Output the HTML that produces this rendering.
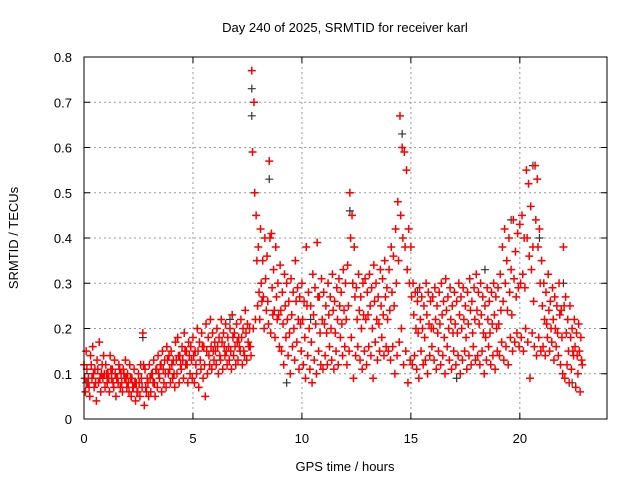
<!DOCTYPE html>
<html><head><meta charset="utf-8">
<style>
html,body{margin:0;padding:0;background:#fff;}
svg{display:block;font-family:"Liberation Sans",sans-serif;}
</style></head>
<body>
<svg id="chart" width="640" height="480" viewBox="0 0 640 480">
<text x="345" y="32" font-size="13" text-anchor="middle">Day 240 of 2025, SRMTID for receiver karl</text>
<text x="345" y="471" font-size="13" text-anchor="middle">GPS time / hours</text>
<text transform="translate(18,238) rotate(-90)" font-size="13" text-anchor="middle">SRMTID / TECUs</text>
<g id="grid"></g>
<g id="ticks"></g>
<g id="series-black"></g>
<g id="series-red"></g>
<rect x="84" y="57" width="523" height="362" fill="none" stroke="#000" stroke-width="1"/>
</svg>
<script>
const xTicks=[0,5,10,15,20];
const yTicks=[0,0.1,0.2,0.3,0.4,0.5,0.6,0.7,0.8];
const yTickLabels=["0","0.1","0.2","0.3","0.4","0.5","0.6","0.7","0.8"];
const timeStep=0.1;
const redHigh=[.12,.15,.09,.14,.16,.11,.13,.17,.10,.14,
.12,.10,.14,.11,.13,.09,.12,.10,.11,.13,
.10,.12,.09,.11,.08,.10,.12,.19,.11,.09,
.12,.10,.13,.11,.14,.12,.15,.13,.16,.14,
.15,.13,.17,.18,.14,.16,.19,.15,.17,.16,
.18,.15,.20,.17,.19,.16,.21,.18,.22,.19,
.17,.20,.18,.22,.19,.21,.18,.20,.23,.19,
.21,.18,.22,.20,.24,.21,.20,.77,.70,.45,
.38,.42,.35,.40,.36,.57,.41,.33,.38,.30,
.34,.28,.32,.30,.26,.31,.28,.35,.29,.27,
.30,.26,.38,.28,.25,.32,.29,.39,.27,.31,
.28,.25,.30,.27,.32,.26,.29,.31,.28,.33,
.30,.34,.50,.45,.38,.29,.32,.27,.30,.31,
.28,.32,.29,.34,.30,.27,.33,.31,.35,.29,
.33,.38,.36,.42,.48,.67,.60,.59,.55,.42,
.38,.30,.28,.26,.29,.27,.25,.30,.28,.26,
.27,.29,.25,.28,.30,.26,.31,.27,.29,.25,
.28,.26,.30,.27,.29,.25,.28,.31,.26,.29,
.32,.28,.30,.27,.25,.29,.26,.28,.30,.27,
.29,.32,.38,.42,.35,.40,.33,.44,.37,.41,
.43,.45,.40,.55,.52,.47,.38,.56,.53,.42,
.35,.30,.28,.32,.26,.29,.27,.25,.30,.24,
.38,.27,.22,.25,.20,.22,.19,.21,.18];
const redMid=[.09,.11,.07,.12,.10,.08,.11,.09,.12,.10,
.10,.09,.11,.08,.10,.09,.11,.08,.10,.09,
.08,.09,.07,.08,.06,.08,.09,.12,.07,.08,
.09,.10,.08,.11,.10,.12,.11,.10,.13,.11,
.12,.10,.13,.14,.12,.13,.15,.12,.14,.13,
.14,.12,.15,.13,.16,.12,.15,.14,.16,.15,
.15,.16,.14,.17,.16,.15,.16,.15,.18,.16,
.17,.16,.18,.15,.19,.17,.16,.59,.50,.35,
.28,.30,.27,.31,.26,.40,.29,.24,.27,.23,
.24,.21,.25,.22,.19,.23,.20,.26,.22,.21,
.22,.18,.25,.20,.17,.23,.21,.27,.19,.22,
.21,.19,.23,.20,.24,.19,.22,.25,.21,.24,
.22,.25,.40,.30,.27,.22,.24,.20,.23,.22,
.23,.25,.20,.26,.22,.21,.25,.23,.27,.22,
.24,.28,.25,.30,.35,.45,.40,.38,.33,.30,
.27,.23,.20,.19,.22,.20,.18,.23,.21,.20,
.20,.22,.19,.21,.23,.18,.24,.20,.22,.19,
.21,.19,.23,.20,.22,.18,.21,.24,.19,.22,
.24,.21,.23,.19,.18,.22,.19,.21,.23,.20,
.21,.24,.26,.30,.24,.28,.23,.31,.27,.29,
.30,.32,.29,.40,.36,.33,.26,.44,.38,.30,
.25,.22,.21,.24,.20,.22,.20,.19,.23,.18,
.25,.19,.15,.18,.15,.16,.14,.15,.13];
const redLow=[.06,.08,.05,.09,.07,.04,.08,.06,.09,.07,
.08,.06,.09,.07,.05,.08,.07,.06,.09,.07,
.06,.05,.07,.04,.06,.05,.07,.03,.06,.05,
.06,.08,.05,.07,.09,.06,.08,.07,.10,.08,
.09,.07,.10,.08,.11,.09,.12,.08,.10,.09,
.08,.10,.07,.11,.09,.05,.10,.12,.11,.13,
.12,.10,.13,.11,.14,.12,.13,.11,.14,.12,
.13,.15,.12,.14,.13,.16,.14,.20,.22,.25,
.22,.26,.20,.24,.21,.19,.23,.18,.22,.16,
.15,.12,.18,.14,.10,.16,.13,.17,.11,.15,
.12,.09,.14,.11,.08,.13,.10,.15,.12,.11,
.14,.12,.16,.13,.11,.15,.12,.18,.14,.16,
.12,.15,.18,.09,.14,.16,.13,.11,.15,.12,
.16,.14,.09,.17,.13,.15,.18,.14,.16,.15,
.13,.16,.10,.14,.17,.20,.12,.15,.08,.13,
.12,.14,.11,.09,.15,.12,.13,.10,.14,.16,
.13,.11,.15,.12,.14,.10,.16,.13,.11,.15,
.12,.14,.10,.13,.15,.11,.14,.12,.16,.13,
.14,.12,.15,.10,.13,.16,.12,.14,.11,.15,
.14,.17,.13,.16,.12,.18,.15,.17,.19,.16,
.18,.15,.20,.17,.09,.19,.16,.14,.18,.15,
.16,.14,.18,.15,.17,.13,.16,.14,.12,.10,
.09,.12,.08,.11,.14,.07,.10,.06,.12];
const blackTimes=[0.1,2.7,6.7,7.7,7.7,8.5,9.3,12.2,12.4,14.6,14.9,17.1,19.6,20.6,20.9,22.0,22.4,15.3,18.4,10.4];
const blackValues=[.08,.18,.22,.73,.67,.53,.08,.46,.38,.63,.42,.09,.44,.56,.40,.30,.08,.28,.33,.22];

const X0=84,X1=607,Y0=419,Y1=57,XMAX=24,YMAX=0.8;
function xs(t){return X0+t/XMAX*(X1-X0);}
function ys(v){return Y0-v/YMAX*(Y0-Y1);}
const NS="http://www.w3.org/2000/svg";
const grid=document.getElementById('grid'),ticks=document.getElementById('ticks');
function mk(tag,attrs,parent){const e=document.createElementNS(NS,tag);for(const k in attrs)e.setAttribute(k,attrs[k]);parent.appendChild(e);return e;}
yTicks.forEach((v,i)=>{
  const y=ys(v);
  if(i>0&&i<yTicks.length-1){const g=mk('line',{x1:X0,x2:X1,y1:y,y2:y,stroke:'#999','stroke-dasharray':'2,3'},grid);
  
  }
  const t=mk('line',{x1:X0,x2:X0+6,y1:y,y2:y,stroke:'#000'},ticks);
  
  
  const t2=mk('line',{x1:X1-6,x2:X1,y1:y,y2:y,stroke:'#000'},ticks);
  
  
  const l=mk('text',{x:72,y:y+5,'font-size':13,'text-anchor':'end'},ticks);
  l.textContent=yTickLabels[i];
  
  
});
xTicks.forEach(v=>{
  const x=xs(v);
  if(v>0){const g=mk('line',{x1:x,x2:x,y1:Y1,y2:Y0,stroke:'#999','stroke-dasharray':'2,3'},grid);
  
  }
  const t=mk('line',{x1:x,x2:x,y1:Y0-6,y2:Y0,stroke:'#000'},ticks);
  
  
  const t2=mk('line',{x1:x,x2:x,y1:Y1,y2:Y1+6,stroke:'#000'},ticks);
  
  
  const l=mk('text',{x:x,y:443,'font-size':13,'text-anchor':'middle'},ticks);
  l.textContent=String(v);
  
  
});
function plus(cx,cy){return 'M'+(cx-4)+' '+cy+'h8M'+cx+' '+(cy-4)+'v8';}
let dB='';
blackTimes.forEach((t,i)=>{dB+=plus(xs(t),ys(blackValues[i]));});
const pb=mk('path',{d:dB,stroke:'#333','stroke-width':1.2,fill:'none'},document.getElementById('series-black'));


let dR='';
[[redHigh,0],[redMid,0.033],[redLow,0.066]].forEach(([arr,off])=>{
  arr.forEach((v,i)=>{dR+=plus(xs(i*timeStep+off),ys(v));});
});
const pr=mk('path',{d:dR,stroke:'#f00','stroke-width':1.5,fill:'none'},document.getElementById('series-red'));


</script>
</body></html>
